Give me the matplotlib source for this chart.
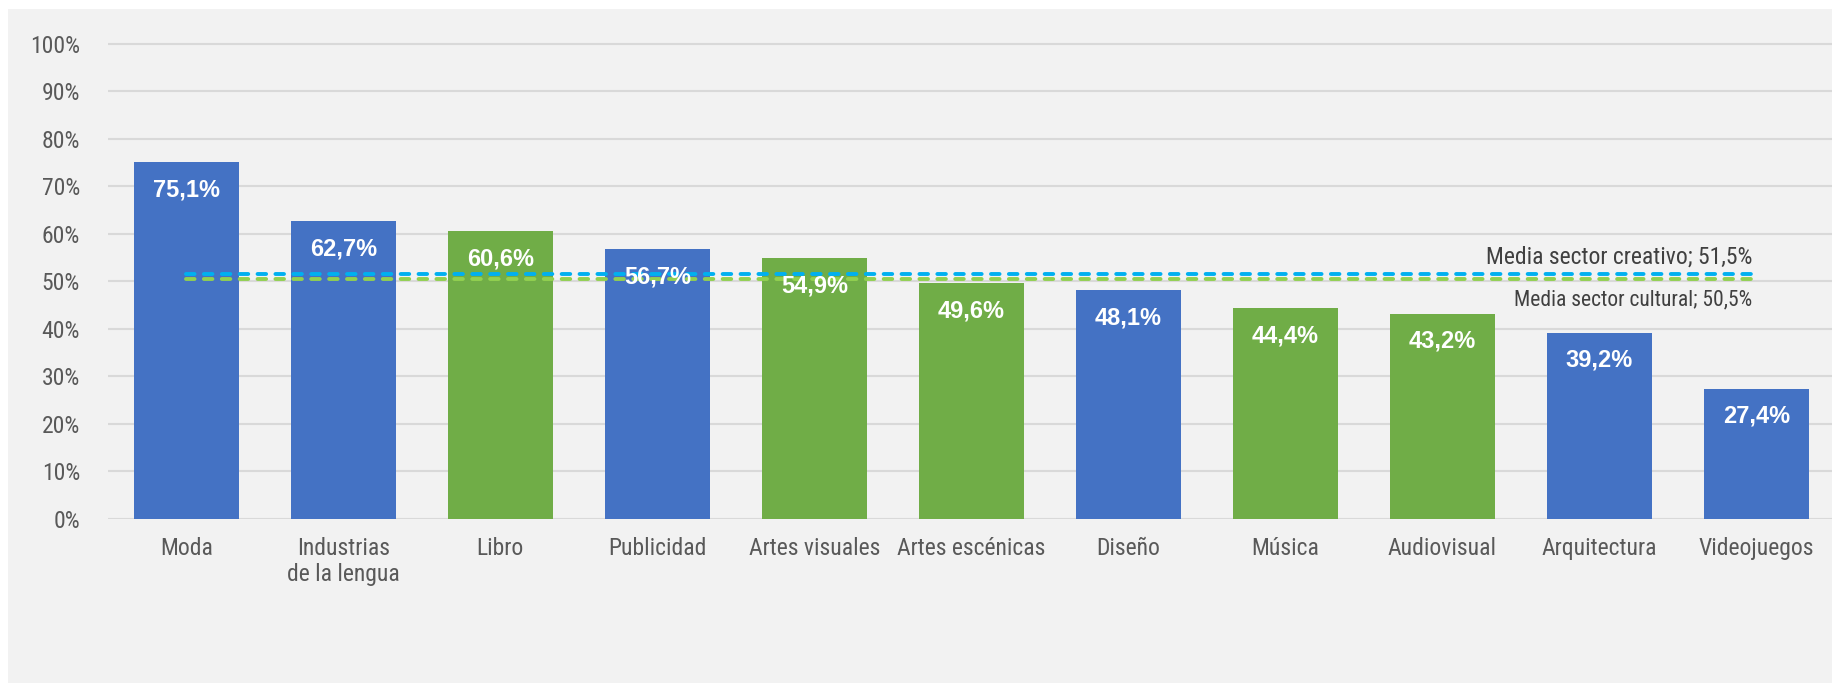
import matplotlib
matplotlib.use('Agg')
import matplotlib.pyplot as plt
from matplotlib.patches import Rectangle

# datos por subsector
categorias = ['Moda', 'Industrias\nde la lengua', 'Libro', 'Publicidad', 'Artes visuales',
              'Artes escénicas', 'Diseño', 'Música', 'Audiovisual', 'Arquitectura', 'Videojuegos']
valores = [75.1, 62.7, 60.6, 56.7, 54.9, 49.6, 48.1, 44.4, 43.2, 39.2, 27.4]
sector = ['creativo', 'creativo', 'cultural', 'creativo', 'cultural',
          'cultural', 'creativo', 'cultural', 'cultural', 'creativo', 'creativo']
media_creativo = 51.5
media_cultural = 50.5

colores = {'creativo': '#4472C4', 'cultural': '#70AD47'}
fuente = ['Roboto Condensed', 'Archivo Narrow', 'DejaVu Sans']

W, H = 1832, 683
fig = plt.figure(figsize=(W / 100, H / 100), dpi=100, facecolor='white')
fig.patches.append(Rectangle((8 / W, 0), 1, (H - 9) / H, transform=fig.transFigure,
                             facecolor='#F2F2F2', edgecolor='none', zorder=-10))

# 4.75 px por punto porcentual, 0% en y=518.7
ax = fig.add_axes([107.7 / W, (H - 518.7) / H, (1835 - 107.7) / W, 4.75 * 102 / H])
ax.set_facecolor('none')

x = range(len(categorias))
ax.bar(x, valores, width=0.67, color=[colores[s] for s in sector], zorder=2)

for i, v in enumerate(valores):
    ax.annotate(f'{v:.1f}%'.replace('.', ','), (i, v), xytext=(0, -20), textcoords='offset points',
                ha='center', va='center', color='white', fontsize=17, fontweight='bold',
                family=['Liberation Sans', 'DejaVu Sans'], zorder=5)

n = len(categorias) - 1
ax.plot([0, n], [media_creativo, media_creativo], color='#00B0F0', lw=2.8,
        dashes=(2.2, 2.4), dash_capstyle='round', zorder=3)
ax.plot([0, n], [media_cultural, media_cultural], color='#92D050', lw=2.8,
        dashes=(2.2, 2.4), dash_capstyle='round', zorder=3)
ax.annotate(f'Media sector creativo; {media_creativo:.1f}%'.replace('.', ','),
            (n, media_creativo), xytext=(-3.2, 12.3), textcoords='offset points',
            ha='right', va='center', fontsize=17, color='#404040', family=fuente)
ax.annotate(f'Media sector cultural; {media_cultural:.1f}%'.replace('.', ','),
            (n, media_cultural), xytext=(-3.2, -15.4), textcoords='offset points',
            ha='right', va='center', fontsize=15.5, color='#404040', family=fuente)

ax.set_xlim(-0.5, len(categorias) - 0.5)
ax.set_ylim(0, 102)
ax.set_yticks(range(0, 101, 10))
ax.set_yticklabels([f'{t}%' for t in range(0, 101, 10)])
ax.set_xticks(list(x))
ax.set_xticklabels(categorias)
ax.grid(axis='y', color='#D9D9D9', lw=1.5, zorder=1)
ax.set_axisbelow(True)
for s in ax.spines.values():
    s.set_visible(False)
ax.tick_params(axis='y', length=0, pad=20, labelsize=17, labelcolor='#595959')
ax.tick_params(axis='x', length=0, pad=13, labelsize=17, labelcolor='#595959')
for lab in ax.get_xticklabels() + ax.get_yticklabels():
    lab.set_family(fuente)

fig.savefig('out.png', dpi=100, facecolor=fig.get_facecolor())
